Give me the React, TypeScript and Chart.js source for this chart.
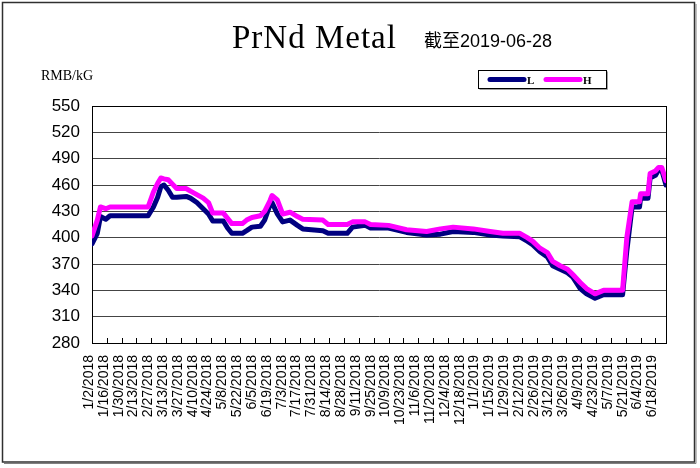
import React, { useEffect, useRef } from 'react';
import { Chart, registerables } from 'chart.js';

Chart.register(...registerables);

// ---------- data ----------
const tickLabels = [
  '1/2/2018', '1/16/2018', '1/30/2018', '2/13/2018', '2/27/2018', '3/13/2018', '3/27/2018',
  '4/10/2018', '4/24/2018', '5/8/2018', '5/22/2018', '6/5/2018', '6/19/2018', '7/3/2018',
  '7/17/2018', '7/31/2018', '8/14/2018', '8/28/2018', '9/11/2018', '9/25/2018', '10/9/2018',
  '10/23/2018', '11/6/2018', '11/20/2018', '12/4/2018', '12/18/2018', '1/1/2019', '1/15/2019',
  '1/29/2019', '2/12/2019', '2/26/2019', '3/12/2019', '3/26/2019', '4/9/2019', '4/23/2019',
  '5/7/2019', '5/21/2019', '6/4/2019', '6/18/2019',
];

const firstDate = '1/2/2018';
const lastDate = '6/28/2019';

const dates = [
  '1/2/2018', '1/7/2018', '1/10/2018', '1/15/2018', '1/19/2018', '2/24/2018', '3/1/2018',
  '3/5/2018', '3/8/2018', '3/11/2018', '3/15/2018', '3/19/2018', '3/23/2018', '4/1/2018',
  '4/5/2018', '4/11/2018', '4/17/2018', '4/22/2018', '4/26/2018', '5/6/2018', '5/10/2018',
  '5/14/2018', '5/24/2018', '5/28/2018', '6/2/2018', '6/10/2018', '6/14/2018', '6/19/2018',
  '6/21/2018', '6/26/2018', '7/1/2018', '7/8/2018', '7/15/2018', '7/20/2018', '8/8/2018',
  '8/13/2018', '8/31/2018', '9/5/2018', '9/17/2018', '9/22/2018', '10/9/2018', '10/26/2018',
  '11/14/2018', '11/27/2018', '12/9/2018', '12/28/2018', '1/13/2019', '1/25/2019', '2/10/2019',
  '2/17/2019', '2/22/2019', '3/1/2019', '3/8/2019', '3/13/2019', '3/20/2019', '3/27/2019',
  '4/1/2019', '4/8/2019', '4/14/2019', '4/22/2019', '4/30/2019', '5/18/2019', '5/22/2019',
  '5/27/2019', '6/3/2019', '6/4/2019', '6/11/2019', '6/13/2019', '6/18/2019', '6/21/2019',
  '6/24/2019', '6/28/2019',
];

const lowPrices = [
  393, 405, 424, 421, 425, 425, 435,
  446, 458, 460, 454, 446, 446, 447,
  445, 440, 433, 427, 419, 419, 411,
  405, 405, 408, 412, 413, 420, 437,
  440, 427, 418, 420, 414, 410, 408,
  405, 405, 412, 414, 411, 411, 406,
  403, 404, 407, 406, 403, 402, 401,
  396, 392, 384, 378, 368, 364, 360,
  355, 342, 336, 331, 335, 335, 385,
  435, 435, 445, 445, 468, 471, 477,
  477, 460,
];

const highPrices = [
  402, 420, 435, 433, 435, 435, 452,
  462, 468, 467, 466, 461, 456, 456,
  453, 449, 445, 440, 428, 428, 422,
  416, 416, 420, 423, 425, 430, 442,
  448, 443, 427, 429, 424, 421, 420,
  415, 415, 418, 418, 415, 414, 409,
  407, 410, 412, 410, 407, 405, 405,
  400, 396, 388, 383, 373, 368, 364,
  358, 349, 342, 336, 340, 340, 400,
  441, 441, 450, 450, 473, 476, 480,
  480, 465,
];

const seriesNames = ['L', 'H'];
const seriesColors = ['#000080', '#FF00FF'];

const titleText = 'PrNd Metal';
const subtitleText = '截至2019-06-28';
const unitText = 'RMB/kG';

// ---------- helpers ----------
const BASE = Date.UTC(2018, 0, 2);
function dayIndex(s: string): number {
  const [m, d, y] = s.split('/').map(Number);
  return Math.round((Date.UTC(y, m - 1, d) - BASE) / 86400000);
}

const framePlugin = {
  id: 'frame',
  beforeDraw(chart: any) {
    const ctx = chart.ctx;
    ctx.save();
    ctx.fillStyle = '#ffffff';
    ctx.fillRect(0, 0, chart.width, chart.height);
    ctx.strokeStyle = '#303030';
    ctx.lineWidth = 1.5;
    ctx.strokeRect(2.5, 2.5, 692, 459.5);
    ctx.strokeStyle = '#808080';
    ctx.lineWidth = 1;
    ctx.beginPath();
    ctx.moveTo(696, 4);
    ctx.lineTo(696, 463.5);
    ctx.lineTo(4, 463.5);
    ctx.stroke();
    ctx.restore();
  },
  beforeDatasetsDraw(chart: any) {
    const ctx = chart.ctx;
    const a = chart.chartArea;
    const xs = chart.scales.x;
    ctx.save();
    ctx.strokeStyle = '#000000';
    ctx.lineWidth = 1;
    ctx.strokeRect(Math.round(a.left) + 0.5, Math.round(a.top) + 0.5,
      Math.round(a.right - a.left), Math.round(a.bottom - a.top));
    ctx.beginPath();
    xs.ticks.forEach((t: any) => {
      const px = Math.round(xs.getPixelForValue(t.value)) + 0.5;
      ctx.moveTo(px, Math.round(a.bottom));
      ctx.lineTo(px, Math.round(a.bottom) - 5);
    });
    ctx.stroke();
    ctx.restore();
  },
  afterDraw(chart: any) {
    const ctx = chart.ctx;
    ctx.save();
    ctx.fillStyle = '#000000';
    ctx.textBaseline = 'alphabetic';
    ctx.textAlign = 'left';
    // title
    ctx.font = '33px "Liberation Serif"';
    try { (ctx as any).letterSpacing = '1px'; } catch (e) { /* ignore */ }
    ctx.fillText(titleText, 232, 48);
    try { (ctx as any).letterSpacing = '0px'; } catch (e) { /* ignore */ }
    ctx.font = '18px "Liberation Sans", "Noto Sans CJK SC"';
    ctx.fillText(subtitleText, 424, 47);
    // unit
    ctx.font = '14px "Liberation Serif"';
    ctx.fillText(unitText, 41, 80);
    // legend box
    ctx.strokeStyle = '#000000';
    ctx.lineWidth = 1;
    ctx.strokeRect(478.5, 70.5, 128, 18);
    ctx.strokeStyle = '#a0a0a0';
    ctx.beginPath();
    ctx.moveTo(607.5, 71.5);
    ctx.lineTo(607.5, 89.5);
    ctx.lineTo(479.5, 89.5);
    ctx.stroke();
    const starts = [490, 546];
    chart.data.datasets.forEach((ds: any, i: number) => {
      const x0 = starts[i];
      ctx.strokeStyle = ds.borderColor;
      ctx.lineWidth = 5;
      ctx.lineCap = 'round';
      ctx.beginPath();
      ctx.moveTo(x0, 79.5);
      ctx.lineTo(x0 + 34, 79.5);
      ctx.stroke();
      ctx.fillStyle = '#000000';
      ctx.font = 'bold 11px "Liberation Serif"';
      ctx.fillText(ds.label, x0 + 37, 84);
    });
    ctx.restore();
  },
};

export default function App() {
  const canvasRef = useRef<HTMLCanvasElement | null>(null);

  useEffect(() => {
    if (!canvasRef.current) return;
    Chart.defaults.font.family = '"Liberation Sans", Arial, sans-serif';
    const xs = dates.map(dayIndex);
    const tickValues = tickLabels.map(dayIndex);
    const seriesValues = [lowPrices, highPrices];

    const chart = new Chart(canvasRef.current, {
      type: 'line',
      data: {
        datasets: seriesValues.map((vals, i) => ({
          label: seriesNames[i],
          data: vals.map((v, j) => ({ x: xs[j], y: v })),
          borderColor: seriesColors[i],
          backgroundColor: seriesColors[i],
          borderWidth: 5,
          pointRadius: 0,
          tension: 0,
          borderJoinStyle: 'round' as const,
          borderCapStyle: 'round' as const,
          order: i === 0 ? 2 : 1,
        })),
      },
      options: {
        responsive: false,
        animation: false,
        layout: { padding: { left: 0, right: 34, top: 106, bottom: 0 } },
        plugins: {
          legend: { display: false },
          title: { display: false },
          tooltip: { enabled: false },
        },
        scales: {
          x: {
            type: 'linear',
            min: dayIndex(firstDate),
            max: dayIndex(lastDate),
            afterBuildTicks: (scale: any) => {
              scale.ticks = tickValues.map((v) => ({ value: v }));
            },
            afterFit: (scale: any) => {
              scale.height = 125;
            },
            grid: { display: false },
            border: { display: true, color: '#000000', width: 1 },
            ticks: {
              autoSkip: false,
              maxRotation: 90,
              minRotation: 90,
              padding: 4,
              labelOffset: -3,
              color: '#000000',
              font: { size: 14, family: '"Liberation Sans"' },
              callback: (_v: any, index: number) => tickLabels[index],
            },
          },
          y: {
            min: 280,
            max: 550,
            afterFit: (scale: any) => {
              scale.width = 92;
            },
            grid: { color: '#444444', lineWidth: 1, drawTicks: false },
            border: { display: true, color: '#000000', width: 1 },
            ticks: {
              stepSize: 30,
              padding: 12,
              color: '#000000',
              font: { size: 17, family: '"Liberation Sans"' },
            },
          },
        },
      },
      plugins: [framePlugin],
    });
    return () => chart.destroy();
  }, []);

  return (
    <div style={{ position: 'absolute', left: 0, top: 0, width: 700, height: 468 }}>
      <canvas ref={canvasRef} width={700} height={468} style={{ display: 'block' }} />
    </div>
  );
}
